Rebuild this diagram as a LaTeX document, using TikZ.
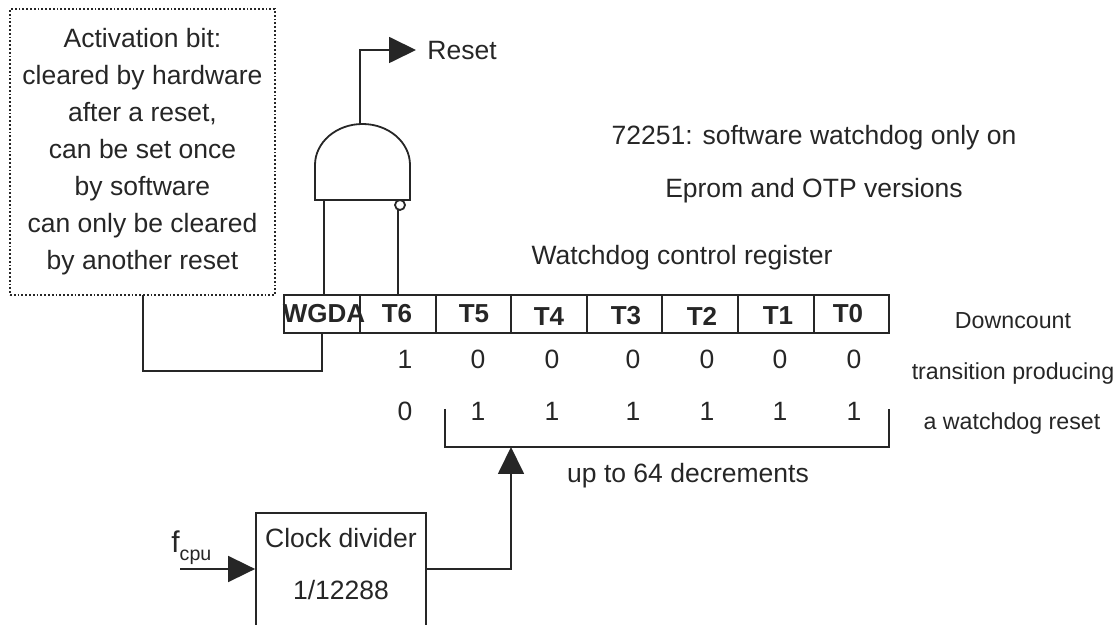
\documentclass[tikz,border=0pt]{standalone}
\usepackage{fontspec}
\setmainfont{Liberation Sans}
\usetikzlibrary{arrows.meta}

\tikzset{
  wire/.style={draw=black!85, line width=0.9pt},
  flow/.style={wire, -{Triangle[length=13.5pt,width=13pt]}},
  cell/.style={draw=black!85, line width=0.9pt, minimum width=38pt, minimum height=19pt, inner sep=0pt},
  txt/.style={inner sep=0pt, text=black!85, font=\fontsize{13.25}{18.5}\selectfont},
  small/.style={inner sep=0pt, text=black!85, font=\fontsize{11.6}{14}\selectfont},
  bit/.style={inner sep=0pt, text=black!85, font=\fontsize{13}{16}\selectfont\bfseries},
}

\begin{document}
\begin{tikzpicture}[x=0.5pt, y=-0.5pt]
  \useasboundingbox (0,0) rectangle (1120,625);
  \clip (0,0) rectangle (1120,625);

  % activation note
  \node [draw=black!85, densely dotted, line width=0.9pt, minimum width=132.5pt, minimum height=143pt,
         inner sep=0pt, align=center, txt] (note) at (142.5,152)
        {Activation bit:\\cleared by hardware\\after a reset,\\can be set once\\by software\\can only be cleared\\by another reset};

  % register cells
  \foreach \name/\xa/\xb in {wgda/284/360, t6/360/436, t5/436/511, t4/511/587, t3/587/662, t2/662/738, t1/738/814, t0/814/889}
    \node [cell, minimum width={(\xb-\xa)*0.5pt}] (\name) at ({(\xa+\xb)/2},314) {};

  \node [bit] (wgdatxt) at (324,314) {WGDA};
  \node [bit] (t6txt) at (397,314) {T6};
  \node [bit] (t5txt) at (474,314) {T5};
  \node [bit] (t4txt) at (549,317) {T4};
  \node [bit] (t3txt) at (626,316) {T3};
  \node [bit] (t2txt) at (702,316) {T2};
  \node [bit] (t1txt) at (778,316) {T1};
  \node [bit] (t0txt) at (848,314) {T0};

  % bit values
  \foreach \name/\x/\hi/\lo in {a/405/1/0, b/478/0/1, c/552/0/1, d/633/0/1, e/707/0/1, f/780/0/1, g/854/0/1} {
    \node [txt] (hi\name) at (\x,359) {\hi};
    \node [txt] (lo\name) at (\x,411) {\lo};
  }

  % and gate
  \draw [wire] (315,200) -- (315,165) arc (180:360:47.5 and 41) -- (410,200) -- cycle;
  \coordinate (andtop) at (360,124);
  \coordinate (andl) at (324,200);
  \coordinate (andr) at (398,210);
  \draw [wire] (400,205) circle (5);
  \coordinate (rstout) at (416,50);
  \node [txt, anchor=west] (reset) at (427,51) {Reset};
  \draw [flow] (andtop) |- (rstout);
  \draw [wire] (andl) -- (andl |- t6.north);
  \draw [wire] (andr) -- (andr |- t6.north);

  % feedback from the cell to the note
  \coordinate (notedown) at (143,295);
  \draw [wire] (notedown) |- (322,371) -- (322,333);

  % bracket
  \coordinate (brl) at (445,409);
  \coordinate (brr) at (889,409);
  \coordinate (brm) at (511,447);
  \draw [wire] (brl) |- (brr |- brm) -- (brr);

  % clock divider, cut off by the page
  \node [draw=black!85, line width=0.9pt, minimum width=85pt, minimum height=70pt, inner sep=0pt] (clk) at (341,583) {};
  \node [txt] (clktop) at (341,538) {Clock divider};
  \node [txt] (clkbot) at (341,590) {1/12288};
  \coordinate (fin) at (180,569);
  \draw [flow] (fin) -- (fin -| clk.west);
  \draw [flow] (clk.east |- fin) -| (brm);
  \node [inner sep=0pt, text=black!85, anchor=base west, font=\fontsize{15}{16}\selectfont] (fcpu) at (171,553)
        {f\raisebox{-4pt}{\fontsize{9.8}{10}\selectfont cpu}};

  % captions
  \node [txt] (cap1) at (814,138) {72251: software watchdog only on};
  \node [txt] (cap2) at (814,191) {Eprom and OTP versions};
  \node [txt] (cap3) at (682,258) {Watchdog control register};
  \node [txt] (decr) at (688,476) {up to 64 decrements};
  \node [small] (down1) at (1013,321) {Downcount};
  \node [small] (down2) at (1013,374) {transition producing};
  \node [small] (down3) at (1012,424) {a watchdog reset};
\end{tikzpicture}
\end{document}
